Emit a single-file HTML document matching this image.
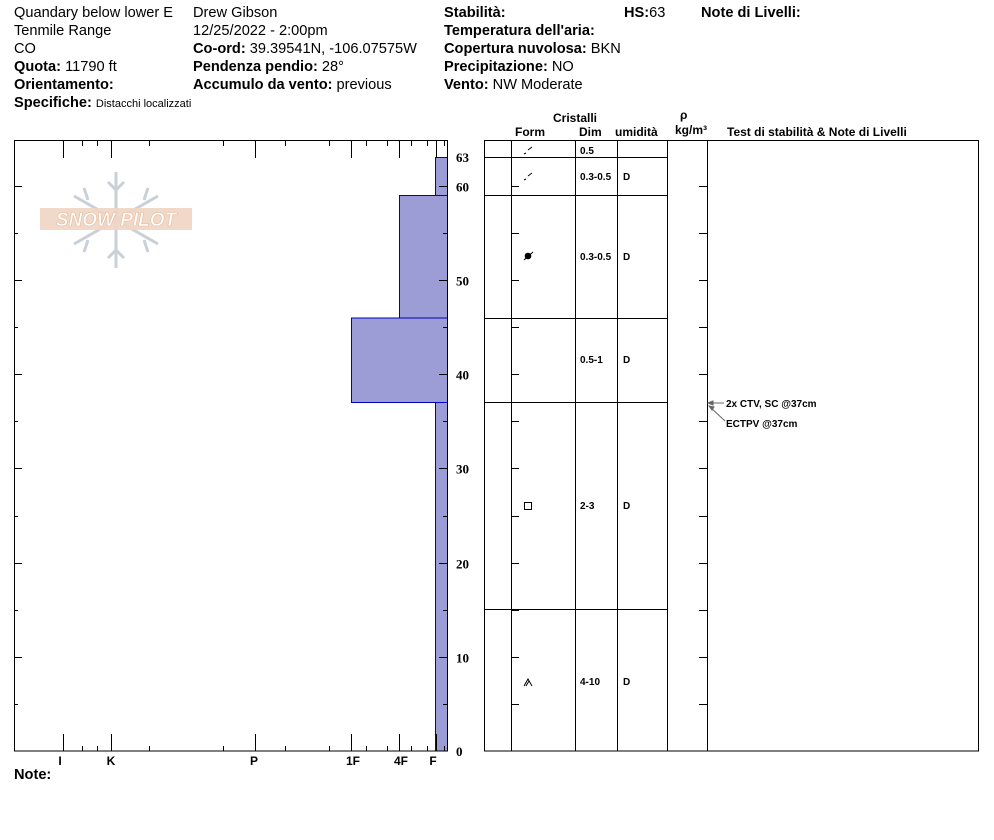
<!DOCTYPE html>
<html><head><meta charset="utf-8"><style>
body{margin:0;background:#fff;width:994px;height:840px;overflow:hidden}
svg{display:block}
.h{font-family:"Liberation Sans",sans-serif;font-size:14.6px;fill:#000}
.b{font-weight:bold}
.s{font-family:"Liberation Sans",sans-serif;font-size:12px;font-weight:bold}
.t{font-family:"Liberation Sans",sans-serif;font-size:10px;font-weight:bold}
.d{font-family:"Liberation Serif",serif;font-size:13px;font-weight:bold}
</style></head><body>
<svg id="g" width="994" height="840" xmlns="http://www.w3.org/2000/svg">
<g class="h">
<text x="14" y="17">Quandary below lower E</text>
<text x="14" y="35">Tenmile Range</text>
<text x="14" y="53">CO</text>
<text x="14" y="71"><tspan class="b">Quota:</tspan> 11790 ft</text>
<text x="14" y="89" class="b">Orientamento:</text>
<text x="14" y="107"><tspan class="b">Specifiche:</tspan> <tspan font-size="11">Distacchi localizzati</tspan></text>
<text x="193" y="17">Drew Gibson</text>
<text x="193" y="35">12/25/2022 - 2:00pm</text>
<text x="193" y="53"><tspan class="b">Co-ord:</tspan> 39.39541N, -106.07575W</text>
<text x="193" y="71"><tspan class="b">Pendenza pendio:</tspan> 28°</text>
<text x="193" y="89"><tspan class="b">Accumulo da vento:</tspan> previous</text>
<text x="444" y="17" class="b">Stabilità:</text>
<text x="444" y="35" class="b">Temperatura dell'aria:</text>
<text x="444" y="53"><tspan class="b">Copertura nuvolosa:</tspan> BKN</text>
<text x="444" y="71"><tspan class="b">Precipitazione:</tspan> NO</text>
<text x="444" y="89"><tspan class="b">Vento:</tspan>  NW Moderate</text>
<text x="624" y="17"><tspan class="b">HS:</tspan>63</text>
<text x="701" y="17" class="b">Note di Livelli:</text>
<text x="14" y="779" class="b">Note:</text>
</g>
<g stroke="#c4ccd4" stroke-width="3" fill="none" opacity="0.9">
<line x1="116" y1="172" x2="116" y2="268"/>
<line x1="74" y1="196" x2="158" y2="244"/>
<line x1="74" y1="244" x2="158" y2="196"/>
<path d="M108 182l8 8 8-8M108 258l8-8 8 8M84 188l4 12M148 188l-4 12M84 252l4-12M148 252l-4-12"/>
</g>
<rect x="40" y="208" width="152" height="22" fill="#f0d5c4" opacity="0.9"/>
<text x="116" y="226" text-anchor="middle" font-family="Liberation Sans,sans-serif" font-size="19" font-weight="bold" font-style="italic" fill="#fff" stroke="#e8b898" stroke-width="0.6">SNOW PILOT</text>
<g fill="#9c9cd6" stroke="#0000c0" stroke-width="1">
<rect x="435.5" y="157.5" width="12" height="593.5"/>
<rect x="399.5" y="195.5" width="48" height="122.5"/>
<rect x="351.5" y="318" width="96" height="84.5"/>
</g>
<rect x="14.5" y="140.5" width="433" height="610.5" fill="none" stroke="#000"/>
<g class="s" text-anchor="middle">
<text x="60" y="765">I</text><text x="111" y="765">K</text><text x="254" y="765">P</text>
<text x="353" y="765">1F</text><text x="401" y="765">4F</text><text x="433" y="765">F</text>
</g>
<g stroke="#000" fill="none">
<rect x="484.5" y="140.5" width="494" height="610.5"/>
<line x1="511.5" y1="140" x2="511.5" y2="751"/>
<line x1="575.5" y1="140" x2="575.5" y2="751"/>
<line x1="617.5" y1="140" x2="617.5" y2="751"/>
<line x1="667.5" y1="140" x2="667.5" y2="751"/>
<line x1="707.5" y1="140" x2="707.5" y2="751"/>
<line x1="484" y1="157.5" x2="667" y2="157.5"/>
<line x1="484" y1="195.5" x2="667" y2="195.5"/>
<line x1="484" y1="318.5" x2="667" y2="318.5"/>
<line x1="484" y1="402.5" x2="667" y2="402.5"/>
<line x1="484" y1="609.5" x2="667" y2="609.5"/>
<rect x="524.5" y="502.5" width="7" height="7"/>
<path d="M524 686l4-7 4 7M526 686l3-5"/>
<path d="M524 154l2-1M528 150l4-3M524 180l2-1M528 176l4-3"/>
</g>
<circle cx="528" cy="256" r="3.3" fill="#000"/><line x1="524" y1="260" x2="533" y2="252" stroke="#000"/>
<g class="s">
<text x="553" y="122">Cristalli</text>
<text x="515" y="136">Form</text><text x="579" y="136">Dim</text><text x="615" y="136">umidità</text>
<text x="680" y="119">ρ</text><text x="675" y="134">kg/m³</text>
<text x="727" y="136">Test di stabilità &amp; Note di Livelli</text>
</g>
<g class="t">
<text x="580" y="154">0.5</text>
<text x="580" y="180">0.3-0.5</text><text x="623" y="180">D</text>
<text x="580" y="260">0.3-0.5</text><text x="623" y="260">D</text>
<text x="580" y="363">0.5-1</text><text x="623" y="363">D</text>
<text x="580" y="509">2-3</text><text x="623" y="509">D</text>
<text x="580" y="685">4-10</text><text x="623" y="685">D</text>
<text x="726" y="407">2x CTV, SC @37cm</text>
<text x="726" y="427">ECTPV @37cm</text>
</g>
<g stroke="#666" fill="#666">
<line x1="709" y1="403" x2="724" y2="403"/><path d="M708 403l5-2v4z"/>
<line x1="710" y1="407" x2="725" y2="421"/><path d="M709 406l5 1-2 3z"/>
</g>
<g class="d" id="dl"></g>
<g id="tk" stroke="#000"></g>
</svg>
<script>
var tk=document.getElementById('tk'),dl=document.getElementById('dl'),ns='http://www.w3.org/2000/svg';
function L(a,b,c,d){var l=document.createElementNS(ns,'line');l.setAttribute('x1',a);l.setAttribute('y1',b);l.setAttribute('x2',c);l.setAttribute('y2',d);tk.appendChild(l);}
function T(x,y,s){var t=document.createElementNS(ns,'text');t.setAttribute('x',x);t.setAttribute('y',y);t.textContent=s;dl.appendChild(t);}
for(var d=5;d<=60;d+=5){var y=Math.round(751-9.417*d)+0.5;var big=d%10==0;
L(14,y,big?22:18,y);L(447,y,big?439:443,y);L(511,y,519,y);L(699,y,707,y);
if(big)T(456,y+5,d);}
T(456,756,0);T(456,162,63);
[[63,1],[82,0],[97,0],[111,1],[149,0],[223,0],[255,1],[285,0],[329,0],[351,1],[366,0],[387,0],[399,1],[411,0],[427,0],[436,1],[444,0]].forEach(function(p){var x=p[0]+0.5,h=p[1]?17:5;L(x,141,x,141+h);L(x,751,x,751-h);});
</script>
</body></html>
